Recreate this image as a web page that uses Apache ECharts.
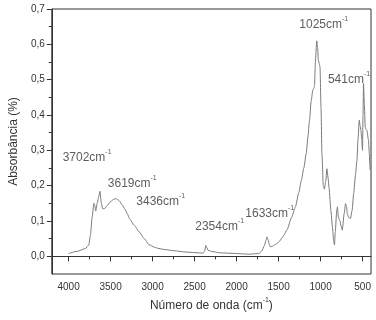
<!DOCTYPE html>
<html>
<head>
<meta charset="utf-8">
<script src="https://cdn.jsdelivr.net/npm/echarts@6/dist/echarts.min.js"></script>
<style>
  html, body { margin: 0; padding: 0; background: #fff; }
  #chart { width: 376px; height: 320px; }
</style>
</head>
<body>
<div id="chart"></div>
<script>
// espectro FTIR
const wavenumber = [4000, 3900, 3800, 3760, 3740, 3720, 3700, 3690, 3677, 3660, 3640, 3627, 3610, 3595, 3570, 3549, 3500, 3460, 3432, 3400, 3360, 3334, 3300, 3276, 3220, 3159, 3100, 3042, 2980, 2925, 2850, 2750, 2600, 2450, 2399, 2380, 2367, 2355, 2340, 2300, 2204, 2100, 2009, 1930, 1853, 1800, 1736, 1700, 1670, 1650, 1638, 1625, 1610, 1600, 1580, 1541, 1500, 1450, 1400, 1346, 1300, 1260, 1229, 1200, 1171, 1150, 1132, 1112, 1093, 1073, 1062, 1046, 1035, 1027, 1015, 1007, 995, 984, 968, 955, 940, 925, 910, 898, 878, 859, 845, 835, 825, 808, 800, 788, 769, 755, 742, 720, 703, 690, 683, 664, 644, 625, 606, 585, 567, 555, 540, 530, 520, 510, 501, 495, 489, 479, 469, 459, 449, 430, 420, 411];
const absorbance = [0.008, 0.014, 0.022, 0.032, 0.06, 0.11, 0.15, 0.145, 0.128, 0.15, 0.17, 0.184, 0.15, 0.135, 0.135, 0.142, 0.155, 0.162, 0.163, 0.158, 0.145, 0.135, 0.12, 0.107, 0.088, 0.069, 0.05, 0.033, 0.026, 0.022, 0.019, 0.016, 0.012, 0.01, 0.009, 0.015, 0.031, 0.025, 0.017, 0.014, 0.01, 0.009, 0.008, 0.007, 0.006, 0.007, 0.008, 0.015, 0.03, 0.045, 0.055, 0.047, 0.033, 0.027, 0.028, 0.033, 0.04, 0.055, 0.075, 0.11, 0.14, 0.18, 0.215, 0.25, 0.291, 0.34, 0.385, 0.44, 0.47, 0.48, 0.55, 0.61, 0.59, 0.555, 0.545, 0.536, 0.42, 0.29, 0.2, 0.19, 0.21, 0.248, 0.22, 0.19, 0.13, 0.083, 0.045, 0.032, 0.07, 0.13, 0.14, 0.11, 0.1, 0.085, 0.074, 0.12, 0.149, 0.14, 0.121, 0.11, 0.107, 0.13, 0.178, 0.23, 0.272, 0.33, 0.385, 0.37, 0.357, 0.33, 0.3, 0.4, 0.489, 0.43, 0.366, 0.36, 0.357, 0.329, 0.29, 0.244];

// rótulos dos picos
const peakNames = [3702, 3619, 3436, 2354, 1633, 1025, 541];
const labelWn = [4071, 3533, 3194, 2492, 1896, 1253, 913];
const labelAbs = [0.280, 0.207, 0.156, 0.085, 0.122, 0.657, 0.501];

// ticks
const xMajor = [4000, 3500, 3000, 2500, 2000, 1500, 1000, 500];
const xMinor = [3750, 3250, 2750, 2250, 1750, 1250, 750];
const yMajor = [0, 0.1, 0.2, 0.3, 0.4, 0.5, 0.6, 0.7];
const yMinor = [0.05, 0.15, 0.25, 0.35, 0.45, 0.55, 0.65];

const font = 'Liberation Sans, Arial, sans-serif';
const supRich = {
  a: { fontSize: 12, fontFamily: font, color: '#333', lineHeight: 18 },
  s: { fontSize: 7, fontFamily: font, color: '#333', lineHeight: 8, verticalAlign: 'top' }
};

const chart = echarts.init(document.getElementById('chart'));
const option = {
  animation: false,
  grid: { left: 46, right: 5, top: 9, bottom: 46, show: true, borderColor: '#333', borderWidth: 1 },
  xAxis: [
    {
      type: 'value', inverse: true, min: 400, max: 4200,
      name: '{a|Número de onda (cm}{s|-1}{a|)}',
      nameLocation: 'middle', nameGap: 22,
      nameTextStyle: { rich: supRich },
      axisLine: { lineStyle: { color: '#333' } },
      axisTick: { inside: false, length: 5, customValues: xMajor, lineStyle: { color: '#333' } },
      axisLabel: {
        customValues: xMajor, margin: 8, fontSize: 10, fontFamily: font, color: '#333',
        formatter: v => String(v)
      },
      splitLine: { show: false }
    },
    {
      type: 'value', inverse: true, min: 400, max: 4200, position: 'bottom',
      axisLine: { show: false },
      axisTick: { length: 3, customValues: xMinor, lineStyle: { color: '#333' } },
      axisLabel: { show: false, customValues: xMinor },
      splitLine: { show: false }
    }
  ],
  yAxis: [
    {
      type: 'value', min: -0.05, max: 0.7,
      name: 'Absorbância (%)',
      nameLocation: 'middle', nameGap: 28,
      nameTextStyle: { fontSize: 12, fontFamily: font, color: '#333' },
      axisLine: { show: true, lineStyle: { color: '#333' } },
      axisTick: { show: true, length: 5, customValues: yMajor, lineStyle: { color: '#333' } },
      axisLabel: {
        customValues: yMajor, margin: 7, fontSize: 10, fontFamily: font, color: '#333',
        formatter: v => v.toFixed(1).replace('.', ',')
      },
      splitLine: { show: false }
    },
    {
      type: 'value', min: -0.05, max: 0.7, position: 'left',
      axisLine: { show: false },
      axisTick: { show: true, length: 3, customValues: yMinor, lineStyle: { color: '#333' } },
      axisLabel: { show: false, customValues: yMinor },
      splitLine: { show: false }
    }
  ],
  series: [
    {
      type: 'line',
      data: wavenumber.map((w, i) => [w, absorbance[i]]),
      showSymbol: false,
      smooth: 0.2,
      smoothMonotone: 'x',
      lineStyle: { color: '#7a7a7a', width: 1 },
      silent: true
    },
    {
      type: 'scatter',
      data: labelWn.map((w, i) => [w, labelAbs[i]]),
      symbolSize: 0,
      silent: true,
      label: {
        show: true,
        position: [0, 0],
        align: 'left',
        verticalAlign: 'middle',
        formatter: p => '{a|' + peakNames[p.dataIndex] + 'cm}{s|-1}',
        rich: supRich
      }
    }
  ]
};
chart.setOption(option);
</script>
</body>
</html>
